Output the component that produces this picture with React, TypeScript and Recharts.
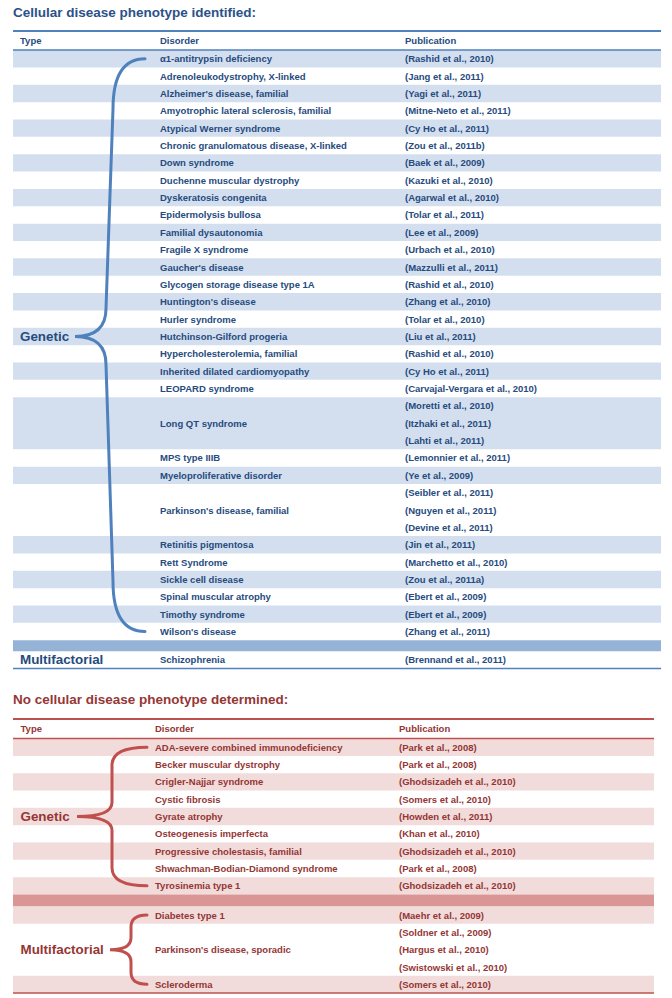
import { ScatterChart, Scatter, XAxis, YAxis, ReferenceArea, ReferenceLine } from 'recharts';

const FONT = '"Liberation Sans", Arial, Helvetica, sans-serif';

const HEADERS = ['Type', 'Disorder', 'Publication'];
const TYPE_LABELS = ['Genetic', 'Multifactorial'];

const IDENTIFIED_GENETIC_DISORDERS = [
  'α1-antitrypsin deficiency',
  'Adrenoleukodystrophy, X-linked',
  "Alzheimer's disease, familial",
  'Amyotrophic lateral sclerosis, familial',
  'Atypical Werner syndrome',
  'Chronic granulomatous disease, X-linked',
  'Down syndrome',
  'Duchenne muscular dystrophy',
  'Dyskeratosis congenita',
  'Epidermolysis bullosa',
  'Familial dysautonomia',
  'Fragile X syndrome',
  "Gaucher's disease",
  'Glycogen storage disease type 1A',
  "Huntington's disease",
  'Hurler syndrome',
  'Hutchinson-Gilford progeria',
  'Hypercholesterolemia, familial',
  'Inherited dilated cardiomyopathy',
  'LEOPARD syndrome',
  'Long QT syndrome',
  'MPS type IIIB',
  'Myeloproliferative disorder',
  "Parkinson's disease, familial",
  'Retinitis pigmentosa',
  'Rett Syndrome',
  'Sickle cell disease',
  'Spinal muscular atrophy',
  'Timothy syndrome',
  "Wilson's disease",
];

const IDENTIFIED_GENETIC_PUBLICATIONS = [
  ['(Rashid et al., 2010)'],
  ['(Jang et al., 2011)'],
  ['(Yagi et al., 2011)'],
  ['(Mitne-Neto et al., 2011)'],
  ['(Cy Ho et al., 2011)'],
  ['(Zou et al., 2011b)'],
  ['(Baek et al., 2009)'],
  ['(Kazuki et al., 2010)'],
  ['(Agarwal et al., 2010)'],
  ['(Tolar et al., 2011)'],
  ['(Lee et al., 2009)'],
  ['(Urbach et al., 2010)'],
  ['(Mazzulli et al., 2011)'],
  ['(Rashid et al., 2010)'],
  ['(Zhang et al., 2010)'],
  ['(Tolar et al., 2010)'],
  ['(Liu et al., 2011)'],
  ['(Rashid et al., 2010)'],
  ['(Cy Ho et al., 2011)'],
  ['(Carvajal-Vergara et al., 2010)'],
  ['(Moretti et al., 2010)', '(Itzhaki et al., 2011)', '(Lahti et al., 2011)'],
  ['(Lemonnier et al., 2011)'],
  ['(Ye et al., 2009)'],
  ['(Seibler et al., 2011)', '(Nguyen et al., 2011)', '(Devine et al., 2011)'],
  ['(Jin et al., 2011)'],
  ['(Marchetto et al., 2010)'],
  ['(Zou et al., 2011a)'],
  ['(Ebert et al., 2009)'],
  ['(Ebert et al., 2009)'],
  ['(Zhang et al., 2011)'],
];

const IDENTIFIED_MULTIFACTORIAL_DISORDERS = ['Schizophrenia'];
const IDENTIFIED_MULTIFACTORIAL_PUBLICATIONS = [['(Brennand et al., 2011)']];

const UNDETERMINED_GENETIC_DISORDERS = [
  'ADA-severe combined immunodeficiency',
  'Becker muscular dystrophy',
  'Crigler-Najjar syndrome',
  'Cystic fibrosis',
  'Gyrate atrophy',
  'Osteogenesis imperfecta',
  'Progressive cholestasis, familial',
  'Shwachman-Bodian-Diamond syndrome',
  'Tyrosinemia type 1',
];

const UNDETERMINED_GENETIC_PUBLICATIONS = [
  ['(Park et al., 2008)'],
  ['(Park et al., 2008)'],
  ['(Ghodsizadeh et al., 2010)'],
  ['(Somers et al., 2010)'],
  ['(Howden et al., 2011)'],
  ['(Khan et al., 2010)'],
  ['(Ghodsizadeh et al., 2010)'],
  ['(Park et al., 2008)'],
  ['(Ghodsizadeh et al., 2010)'],
];

const UNDETERMINED_MULTIFACTORIAL_DISORDERS = ['Diabetes type 1', "Parkinson's disease, sporadic", 'Scleroderma'];
const UNDETERMINED_MULTIFACTORIAL_PUBLICATIONS = [
  ['(Maehr et al., 2009)'],
  ['(Soldner et al., 2009)', '(Hargus et al., 2010)', '(Swistowski et al., 2010)'],
  ['(Somers et al., 2010)'],
];

const BLUE = {
  title: '#2b5188',
  text: '#264b7e',
  line: '#4f81bd',
  shade: '#d3dfee',
  sep: '#95b3d7',
  brace: '#4f81bd',
};

const RED = {
  title: '#953735',
  text: '#943634',
  line: '#c0504d',
  shade: '#f2dcdb',
  sep: '#d99694',
  brace: '#c0504d',
};

type Group = { label: string; disorders: string[]; pubs: string[][]; firstShaded: boolean };
type BraceStyle = { tip: number; stemOuter: number; stemInner: number; end: number; rEnd: number; rTip: number };

function layoutTable(groups: Group[], cols: number[], headerUnits: number, sepUnits: number) {
  const bands: { y1: number; y2: number; kind: string }[] = [];
  const cells: { x: number; y: number; text: string; kind: string }[] = [];
  const braces: { y1: number; y2: number; tip: number; gi: number }[] = [];

  HEADERS.forEach((h, i) => cells.push({ x: cols[i], y: headerUnits / 2, text: h, kind: 'header' }));

  let y = headerUnits;
  groups.forEach((g, gi) => {
    if (gi > 0) {
      bands.push({ y1: y, y2: y + sepUnits, kind: 'sep' });
      y += sepUnits;
    }
    const start = y;
    g.disorders.forEach((d, i) => {
      const pubs = g.pubs[i];
      const h = pubs.length;
      const shaded = (i % 2 === 0) === g.firstShaded;
      if (shaded) bands.push({ y1: y, y2: y + h, kind: 'shade' });
      cells.push({ x: cols[1], y: y + h / 2, text: d, kind: 'row' });
      pubs.forEach((p, j) => cells.push({ x: cols[2], y: y + j + 0.5, text: p, kind: 'row' }));
      y += h;
    });
    const lines = y - start;
    const tip = start + Math.floor(lines / 2 - 0.5) + 0.5;
    cells.push({ x: cols[0], y: tip, text: g.label, kind: 'type' });
    if (g.disorders.length > 1) braces.push({ y1: start + 0.5, y2: y - 0.5, tip, gi });
  });

  return { bands, cells, braces, total: y };
}

function BracePath(props: any) {
  const { x, y, height, frac, s, color, left } = props;
  // x is the chart pixel of the tip column
  const x0 = x;
  const xo = left + s.stemOuter;
  const xi = left + s.stemInner;
  const x1 = left + s.end;
  const yTop = y;
  const yBot = y + height;
  const yTip = y + height * frac;
  const d = [
    `M ${x1} ${yTop}`,
    `Q ${xo} ${yTop} ${xo} ${yTop + s.rEnd}`,
    `L ${xi} ${yTip - s.rTip}`,
    `Q ${xi} ${yTip} ${x0} ${yTip}`,
    `Q ${xi} ${yTip} ${xi} ${yTip + s.rTip}`,
    `L ${xo} ${yBot - s.rEnd}`,
    `Q ${xo} ${yBot} ${x1} ${yBot}`,
  ].join(' ');
  return <path d={d} fill="none" stroke={color} strokeWidth={3} strokeLinecap="round" />;
}

type SectionProps = {
  title: string;
  titleTop: number;
  groups: Group[];
  theme: typeof BLUE;
  cols: number[];
  braceStyles: BraceStyle[];
  height: number;
  margin: { top: number; right: number; bottom: number; left: number };
  headerUnits: number;
  sepUnits: number;
};

function Section({ title, titleTop, groups, theme, cols, braceStyles, height, margin, headerUnits, sepUnits }: SectionProps) {
  const t = layoutTable(groups, cols, headerUnits, sepUnits);
  const width = 672 - margin.left - margin.right;

  const renderCell = (props: any) => {
    const { cx, cy, payload } = props;
    const size = payload.kind === 'type' ? 13.4 : 9.5;
    return (
      <text
        x={cx}
        y={cy}
        dominantBaseline="central"
        fontFamily={FONT}
        fontWeight="bold"
        fontSize={size}
        fill={theme.text}
      >
        {payload.text}
      </text>
    );
  };

  return (
    <div style={{ position: 'relative', width: 672, height }}>
      <div
        style={{
          position: 'absolute',
          left: 13,
          top: titleTop,
          fontFamily: FONT,
          fontWeight: 'bold',
          fontSize: 13.5,
          lineHeight: '13.5px',
          color: theme.title,
          whiteSpace: 'nowrap',
          zIndex: 1,
        }}
      >
        {title}
      </div>
      <ScatterChart width={672} height={height} margin={margin}>
        <XAxis type="number" dataKey="x" domain={[0, width]} allowDataOverflow hide />
        <YAxis type="number" dataKey="y" domain={[0, t.total]} allowDataOverflow reversed hide />
        {t.bands.map((b, i) => (
          <ReferenceArea
            key={`band-${i}`}
            x1={0}
            x2={width}
            y1={b.y1}
            y2={b.y2}
            fill={b.kind === 'sep' ? theme.sep : theme.shade}
            fillOpacity={1}
            stroke="none"
            ifOverflow="visible"
          />
        ))}
        <ReferenceLine y={0} stroke={theme.line} strokeWidth={2} ifOverflow="visible" />
        <ReferenceLine y={headerUnits} stroke={theme.line} strokeWidth={1.5} ifOverflow="visible" />
        <ReferenceLine y={t.total} stroke={theme.line} strokeWidth={1.5} ifOverflow="visible" />
        {t.braces.map((b, i) => {
          const s = braceStyles[b.gi];
          const frac = (b.tip - b.y1) / (b.y2 - b.y1);
          return (
            <ReferenceArea
              key={`brace-${i}`}
              x1={s.tip}
              x2={s.end}
              y1={b.y1}
              y2={b.y2}
              ifOverflow="visible"
              shape={(p: any) => (
                <BracePath {...p} frac={frac} s={s} color={theme.brace} left={margin.left} />
              )}
            />
          );
        })}
        <Scatter data={t.cells} isAnimationActive={false} shape={renderCell} />
      </ScatterChart>
    </div>
  );
}

const IDENTIFIED_GROUPS: Group[] = [
  {
    label: TYPE_LABELS[0],
    disorders: IDENTIFIED_GENETIC_DISORDERS,
    pubs: IDENTIFIED_GENETIC_PUBLICATIONS,
    firstShaded: true,
  },
  {
    label: TYPE_LABELS[1],
    disorders: IDENTIFIED_MULTIFACTORIAL_DISORDERS,
    pubs: IDENTIFIED_MULTIFACTORIAL_PUBLICATIONS,
    firstShaded: false,
  },
];

const UNDETERMINED_GROUPS: Group[] = [
  {
    label: TYPE_LABELS[0],
    disorders: UNDETERMINED_GENETIC_DISORDERS,
    pubs: UNDETERMINED_GENETIC_PUBLICATIONS,
    firstShaded: true,
  },
  {
    label: TYPE_LABELS[1],
    disorders: UNDETERMINED_MULTIFACTORIAL_DISORDERS,
    pubs: UNDETERMINED_MULTIFACTORIAL_PUBLICATIONS,
    firstShaded: true,
  },
];

export default function App() {
  return (
    <div style={{ position: 'absolute', left: 0, top: 0, width: 672, height: 998, background: '#fff' }}>
      <Section
        title="Cellular disease phenotype identified:"
        titleTop={5.9}
        groups={IDENTIFIED_GROUPS}
        theme={BLUE}
        cols={[7, 147, 392]}
        braceStyles={[
          { tip: 62, stemOuter: 100, stemInner: 93, end: 132, rEnd: 50, rTip: 28 },
          { tip: 62, stemOuter: 100, stemInner: 93, end: 132, rEnd: 10, rTip: 10 },
        ]}
        height={680}
        margin={{ top: 31, right: 11, bottom: 11.5, left: 13 }}
        headerUnits={1.1}
        sepUnits={0.63}
      />
      <Section
        title="No cellular disease phenotype determined:"
        titleTop={12.6}
        groups={UNDETERMINED_GROUPS}
        theme={RED}
        cols={[7.5, 142, 386]}
        braceStyles={[
          { tip: 64, stemOuter: 99, stemInner: 99, end: 134, rEnd: 18, rTip: 14 },
          { tip: 97, stemOuter: 118, stemInner: 118, end: 134, rEnd: 12, rTip: 12 },
        ]}
        height={318}
        margin={{ top: 39, right: 18, bottom: 5, left: 13 }}
        headerUnits={1.13}
        sepUnits={0.69}
      />
    </div>
  );
}
